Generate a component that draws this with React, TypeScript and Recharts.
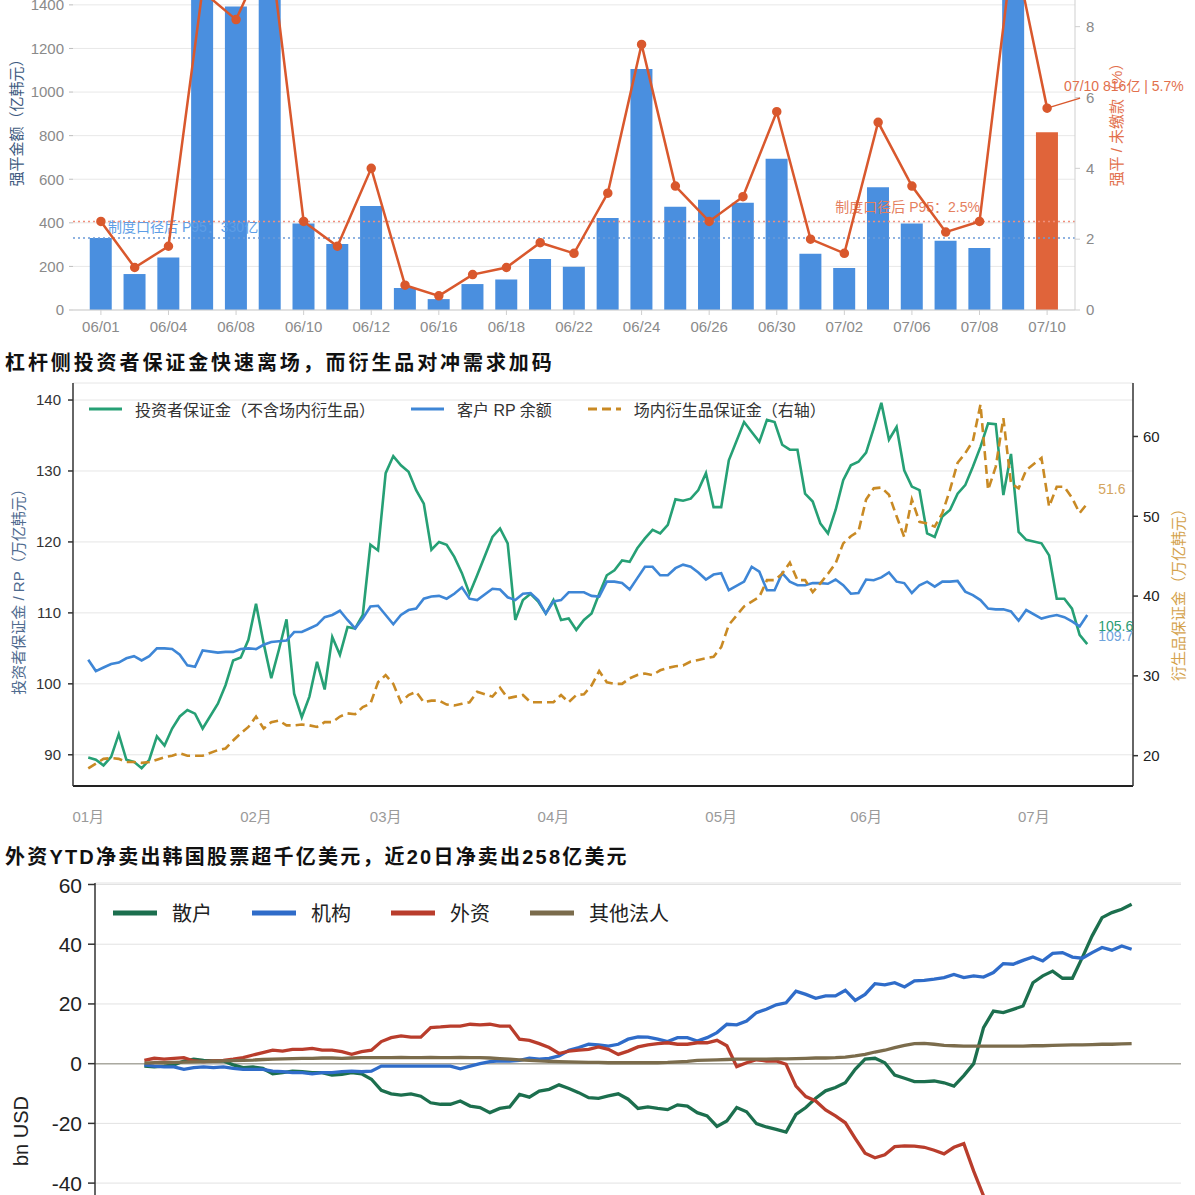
import React from 'react'
import {
  Bar,
  CartesianGrid,
  Cell,
  ComposedChart,
  Line,
  LineChart,
  ReferenceLine,
  XAxis,
  YAxis,
} from 'recharts'

const FONT = '"Liberation Sans", Arial, "Noto Sans CJK SC", sans-serif'

// ---------- 图 1：强平金额 / 未缴款比例 ----------
const TOP_DATES = [
  '06/01', '06/02', '06/04', '06/05', '06/08', '06/09', '06/10', '06/11', '06/12', '06/15',
  '06/16', '06/17', '06/18', '06/19', '06/22', '06/23', '06/24', '06/25', '06/26', '06/29',
  '06/30', '07/01', '07/02', '07/03', '07/06', '07/07', '07/08', '07/09', '07/10',
]
// 强平金额（亿韩元）
const TOP_AMOUNT = [
  330, 165, 241, 1680, 1392, 1720, 397, 303, 477, 101,
  50, 119, 140, 234, 199, 422, 1106, 474, 506, 492,
  694, 258, 193, 563, 397, 318, 285, 1760, 816,
]
// 强平 / 未缴款（%）
const TOP_RATE = [
  2.5, 1.2, 1.8, 9.0, 8.2, 10.3, 2.5, 1.8, 4.0, 0.7,
  0.4, 1.0, 1.2, 1.9, 1.6, 3.3, 7.5, 3.5, 2.5, 3.2,
  5.6, 2.0, 1.6, 5.3, 3.5, 2.2, 2.5, 10.3, 5.7,
]
const P95_AMOUNT = 330
const P95_RATE = 2.5
const TOP_AMOUNT_TICKS = [0, 200, 400, 600, 800, 1000, 1200, 1400, 1600, 1800]
const TOP_RATE_TICKS = [0, 2, 4, 6, 8, 10, 12]

// ---------- 图 2：投资者保证金 / RP / 场内衍生品保证金 ----------
const MID_DAY = [
  0, 1, 2, 3, 4, 5, 6, 7, 8, 9, 10, 11, 12, 13, 14, 15,
  17, 18, 19, 20, 21, 22, 23, 24, 25, 26, 27, 28, 29, 30, 31, 32, 33, 34, 35, 36, 37, 38, 39, 40, 41, 42, 43, 44, 45,
  46, 47, 48, 49, 50, 51,
  53, 54, 55, 56, 57, 58, 59, 60, 61, 62, 63, 64, 65, 66, 67, 68, 69, 70, 71, 72, 73, 74, 75, 76, 77, 78, 79, 80, 81, 82, 83, 84,
  86, 87, 88, 89, 90, 91, 92, 93,
  94, 95, 96, 97, 98, 99, 100, 101, 102, 103, 104, 105, 106, 107, 108, 109, 110, 111, 112, 113, 114, 115, 116, 117, 118, 119, 120, 121, 122, 123,
  125, 126, 127, 128, 129, 130, 131,
]
const MID_MARGIN = [
  89.6, 89.3, 88.5, 89.7, 92.9, 89.3, 89.0, 88.1, 89.3, 92.6, 91.3, 93.7, 95.4, 96.3, 95.8, 93.7,
  97.2, 99.8, 103.3, 103.7, 106.2, 111.3, 105.7, 100.8, 104.8, 109.1, 98.6, 95.3, 98.2, 103.1, 99.2, 106.6, 104.1, 108.0, 107.8, 109.7, 119.6, 118.8, 129.7, 132.1, 130.8, 129.9, 127.3, 125.4, 118.9,
  120.0, 119.6, 117.9, 115.6, 112.7, 115.3,
  120.7, 121.9, 119.8, 109.0, 111.8, 112.7, 111.6, 109.9, 111.8, 109.0, 109.2, 107.6, 109.0, 109.9, 112.7, 115.3, 116.0, 117.4, 117.2, 119.1, 120.5, 121.7, 121.2, 122.4, 126.0, 125.8, 126.1, 127.3, 129.7, 124.9, 124.9, 131.5,
  136.9, 135.5, 134.1, 137.2, 136.9, 133.7, 133.0, 133.0,
  126.8, 125.7, 122.6, 121.2, 124.5, 128.7, 130.8, 131.3, 132.6, 136.0, 139.6, 134.4, 136.2, 130.1, 127.8, 127.3, 121.2, 120.7, 123.6, 124.5, 126.8, 128.0, 130.6, 133.4, 136.7, 136.6, 126.6, 132.4, 121.4, 120.3,
  119.8, 118.1, 112.0, 112.0, 110.6, 106.9, 105.6,
]
const MID_RP = [
  103.4, 101.8, 102.3, 102.8, 103.0, 103.6, 103.9, 103.3, 103.9, 105.0, 105.0, 104.9, 104.1, 102.6, 102.4, 104.7,
  104.4, 104.5, 104.5, 104.9, 105.0, 104.9, 105.5, 105.9, 106.0, 106.1, 107.3, 107.3, 107.8, 108.3, 109.4, 109.7, 110.3, 109.0, 107.8, 109.2, 110.9, 111.0, 109.7, 108.4, 109.7, 110.4, 110.6, 112.0, 112.3,
  112.4, 112.0, 112.7, 113.6, 112.0, 111.8,
  113.4, 113.3, 112.2, 111.8, 112.7, 112.8, 111.8, 109.9, 111.6, 111.8, 112.9, 112.9, 112.9, 112.4, 112.3, 114.4, 114.4, 114.2, 113.3, 114.9, 116.5, 116.5, 115.3, 115.3, 116.3, 116.8, 116.5, 115.7, 114.7, 115.4, 115.6, 113.2,
  114.4, 116.5, 115.8, 113.2, 113.2, 115.6, 114.4, 113.9,
  113.9, 114.2, 114.2, 114.1, 114.7, 113.9, 112.7, 112.8, 114.7, 114.6, 115.0, 115.7, 114.4, 114.2, 112.8, 113.9, 114.4, 113.7, 114.4, 114.4, 114.5, 113.0, 112.5, 111.8, 110.6, 110.5, 110.5, 110.2, 108.9, 110.4,
  109.2, 109.5, 109.7, 109.4, 108.8, 108.1, 109.7,
]
const MID_DERIV = [
  18.4, 19.0, 19.6, 19.7, 19.6, 19.2, 19.2, 19.1, 19.2, 19.5, 19.8, 20.0, 20.3, 20.0, 20.0, 20.0,
  20.7, 20.9, 21.9, 22.8, 23.6, 24.9, 23.4, 24.2, 24.4, 23.8, 23.8, 23.9, 23.8, 23.6, 24.2, 24.2, 24.9, 25.3, 25.2, 26.1, 26.5, 29.2, 30.1, 29.0, 26.7, 27.6, 28.0, 26.7, 26.9,
  26.9, 26.4, 26.3, 26.5, 26.7, 28.0,
  27.4, 28.5, 27.2, 27.4, 27.6, 26.7, 26.7, 26.7, 26.7, 27.6, 26.7, 27.6, 27.7, 28.8, 30.6, 29.2, 29.0, 29.0, 29.7, 30.1, 30.3, 30.1, 30.7, 31.0, 31.2, 31.3, 31.8, 32.0, 32.2, 32.4, 33.6, 36.4,
  38.7, 39.3, 39.9, 42.0, 42.0, 42.8, 44.2, 42.0,
  42.0, 40.5, 41.6, 42.8, 44.1, 46.6, 47.5, 48.1, 52.1, 53.5, 53.6, 52.7, 50.0, 47.4, 52.1, 49.3, 49.1, 48.7, 50.4, 53.3, 56.7, 57.9, 59.4, 64.0, 53.3, 56.2, 62.3, 54.1, 53.5, 55.8,
  57.3, 51.2, 53.7, 53.7, 52.3, 50.4, 51.6,
]
const MONTH_DAYS = [0, 22, 39, 61, 83, 102, 124]
const MONTH_LABELS = ['01月', '02月', '03月', '04月', '05月', '06月', '07月']

// ---------- 图 3：各类投资者累计净买入（bn USD） ----------
const RETAIL = [
  -0.8, -1.1, -0.8, -0.4, 0.9, 1.5, 1.1, 0.9, 0.9, -0.4, -1.3, -1.1, -1.6, -3.4, -3.0, -2.5, -2.7, -3.0, -3.0, -3.8,
  -3.6, -3.0, -3.4, -5.2, -8.9, -10.1, -10.5, -10.1, -10.9, -13.1, -13.6, -13.6, -12.5, -14.2, -14.7, -16.4, -15.0, -14.5, -10.3, -11.2,
  -9.2, -8.6, -7.1, -8.3, -9.7, -11.4, -11.6, -10.8, -10.1, -11.9, -15.0,
  -14.5, -15.0, -15.4, -13.8, -14.2, -16.4, -17.5, -21.0, -19.2, -14.7, -16.1, -20.1, -21.2, -22.0, -22.9, -17.0, -14.7, -11.6, -9.1, -8.0,
  -6.4, -1.9, 1.5, 1.8, 0.3, -3.8, -4.9, -6.0, -6.0, -5.8, -6.4, -7.5, -4.0, 0.0, 12.1, 17.6, 17.1, 18.2, 19.3, 27.1,
  29.4, 31.0, 28.6, 28.6, 35.5, 42.8, 48.9, 50.6, 51.7, 53.4,
]
const INSTITUTION = [
  -0.4, -0.8, -1.1, -1.1, -1.9, -1.3, -1.1, -1.3, -1.1, -1.6, -1.9, -1.9, -1.9, -2.5, -2.7, -3.0, -3.0, -3.4, -3.0, -3.0,
  -2.7, -2.5, -2.7, -2.5, -0.8, -0.8, -0.8, -0.8, -0.8, -0.8, -0.8, -0.8, -1.7, -0.8, 0.0, 0.7, 0.9, 0.9, 1.1, 1.8,
  1.5, 1.8, 2.6, 4.5, 5.4, 6.5, 6.3, 5.9, 6.5, 8.2, 9.0,
  8.9, 8.2, 7.4, 8.7, 8.7, 7.6, 8.7, 10.4, 13.2, 13.0, 14.3, 17.1, 18.2, 19.7, 20.4, 24.3, 23.2, 21.9, 22.7, 22.7,
  24.6, 21.2, 23.2, 26.8, 26.4, 27.1, 25.7, 27.7, 27.9, 28.3, 28.8, 29.9, 28.8, 29.4, 29.0, 30.5, 33.5, 33.3, 34.6, 35.7,
  34.4, 36.9, 37.2, 35.7, 35.3, 37.2, 38.9, 38.0, 39.4, 38.3,
]
const FOREIGN = [
  1.1, 1.8, 1.5, 1.8, 2.0, 0.9, 0.7, 0.9, 1.1, 1.5, 2.0, 2.9, 3.7, 4.5, 4.2, 4.8, 4.8, 5.1, 4.5, 4.5,
  4.0, 3.1, 4.0, 4.5, 7.4, 8.7, 9.3, 8.9, 8.9, 12.1, 12.3, 12.6, 12.6, 13.2, 13.0, 13.2, 12.6, 12.6, 8.2, 7.8,
  6.7, 5.4, 3.4, 4.2, 4.5, 4.8, 5.6, 4.8, 3.1, 4.2, 5.6,
  6.3, 6.7, 7.0, 6.5, 6.5, 7.0, 7.0, 7.8, 6.0, -1.0, 0.3, 1.3, 0.9, 0.9, -0.2, -7.5, -11.0, -12.5, -15.5, -17.5,
  -19.8, -25.0, -30.0, -31.5, -30.5, -27.8, -27.5, -27.6, -28.0, -29.0, -30.2, -28.0, -26.8, -36.0, -44.3, -52, -58, -63, -67, -72,
  -76, -80, -83, -86, -89, -92, -95, -98, -101, -103,
]
const OTHER_CORP = [
  0.2, 0.3, 0.3, 0.4, 0.5, 0.6, 0.7, 0.8, 0.9, 1.0, 1.1, 1.2, 1.4, 1.5, 1.6, 1.7, 1.8, 1.8, 1.9, 1.9,
  1.8, 1.9, 2.0, 2.0, 2.0, 2.0, 2.1, 2.0, 2.0, 2.1, 2.0, 2.0, 2.1, 2.0, 2.0, 1.9, 1.7, 1.5, 1.3, 1.1,
  0.9, 0.8, 0.7, 0.6, 0.5, 0.4, 0.4, 0.3, 0.3, 0.3, 0.3,
  0.3, 0.3, 0.4, 0.6, 0.8, 1.1, 1.2, 1.3, 1.4, 1.5, 1.5, 1.5, 1.5, 1.6, 1.6, 1.7, 1.8, 1.9, 1.9, 2.0,
  2.2, 2.6, 3.1, 3.9, 4.5, 5.4, 6.1, 6.7, 6.8, 6.5, 6.1, 6.0, 5.9, 5.9, 5.9, 5.9, 5.9, 5.9, 5.9, 6.0,
  6.0, 6.1, 6.2, 6.3, 6.3, 6.4, 6.5, 6.5, 6.6, 6.7,
]
const BOTTOM_TICKS = [-120, -100, -80, -60, -40, -20, 0, 20, 40, 60]

// 图表用的数据表
const topData = TOP_DATES.map((date, i) => ({ date, amount: TOP_AMOUNT[i], rate: TOP_RATE[i] }))
const TOP_LAST = TOP_DATES.length - 1

const midData = MID_DAY.map((day, i) => ({
  day,
  margin: MID_MARGIN[i],
  rp: MID_RP[i],
  deriv: MID_DERIV[i],
}))
const MID_LAST = MID_DAY.length - 1

const bottomData = RETAIL.map((v, k) => ({
  k,
  retail: v,
  inst: INSTITUTION[k],
  foreign: FOREIGN[k],
  other: OTHER_CORP[k],
}))

const MID_SERIES = [
  { key: 'margin', label: '投资者保证金（不含场内衍生品）', color: '#26a075', dashed: false },
  { key: 'rp', label: '客户 RP 余额', color: '#3e86d6', dashed: false },
  { key: 'deriv', label: '场内衍生品保证金（右轴）', color: '#c98a24', dashed: true },
]

const BOTTOM_SERIES = [
  { key: 'retail', label: '散户', color: '#1c6f4e' },
  { key: 'inst', label: '机构', color: '#2f6cc9' },
  { key: 'foreign', label: '外资', color: '#b93d2c' },
  { key: 'other', label: '其他法人', color: '#7b6c4c' },
]

// 旋转的坐标轴标题（HTML 覆盖层）
function RotatedTitle({ text, cx, cy, color, size }: { text: string; cx: number; cy: number; color: string; size: number }) {
  return (
    <div
      style={{
        position: 'absolute',
        left: cx,
        top: cy,
        transform: 'translate(-50%, -50%) rotate(-90deg)',
        whiteSpace: 'nowrap',
        color,
        fontSize: size,
        fontFamily: FONT,
        lineHeight: 1,
      }}
    >
      {text}
    </div>
  )
}

// 07/10 的标注：引线 + 文本
function TopAnnotation(props: any) {
  const { x, y, index } = props
  if (index !== TOP_LAST || x == null || y == null) return null
  const text = `${TOP_DATES[TOP_LAST]} ${TOP_AMOUNT[TOP_LAST]}亿 | ${TOP_RATE[TOP_LAST]}%`
  return (
    <g>
      <line x1={x} y1={y} x2={x + 33} y2={y - 10} stroke="#d9582d" strokeWidth={1.5} />
      <text x={x + 17} y={y - 17} fill="#e2704c" fontSize={14} fontFamily={FONT}>
        {text}
      </text>
    </g>
  )
}

function TopChart() {
  return (
    <ComposedChart
      width={1195}
      height={470}
      data={topData}
      margin={{ top: 10, right: 60, bottom: 0, left: 0 }}
      barCategoryGap="17%"
    >
      <CartesianGrid yAxisId="amt" vertical={false} stroke="#e8e8e8" />
      <XAxis
        dataKey="date"
        interval={1}
        height={35}
        padding={{ left: 11, right: 11 }}
        stroke="#cfcfcf"
        tickSize={5}
        tickMargin={6}
        tick={{ fontSize: 15, fill: '#8a8a8a', fontFamily: FONT }}
      />
      <YAxis
        yAxisId="amt"
        width={73}
        domain={[0, 1950]}
        ticks={TOP_AMOUNT_TICKS}
        axisLine={false}
        tickLine={{ stroke: '#bdbdbd' }}
        tickSize={4}
        tickMargin={5}
        tick={{ fontSize: 15, fill: '#8a8a8a', fontFamily: FONT }}
      />
      <YAxis
        yAxisId="rate"
        orientation="right"
        width={60}
        domain={[0, 12]}
        ticks={TOP_RATE_TICKS}
        stroke="#cfcfcf"
        tickSize={5}
        tickMargin={6}
        tick={{ fontSize: 15, fill: '#8a8a8a', fontFamily: FONT }}
      />
      <ReferenceLine
        yAxisId="amt"
        y={P95_AMOUNT}
        stroke="#6b9ad8"
        strokeDasharray="2 3"
        strokeWidth={1.5}
        label={(p: any) => (
          <text x={p.viewBox.x + 35} y={p.viewBox.y - 6} fill="#5d9de6" fontSize={14} fontFamily={FONT}>
            {`制度口径后 P95：${P95_AMOUNT}亿`}
          </text>
        )}
      />
      <ReferenceLine
        yAxisId="rate"
        y={P95_RATE}
        stroke="#f0907c"
        strokeDasharray="2 3"
        strokeWidth={1.5}
        label={(p: any) => (
          <text
            x={p.viewBox.x + p.viewBox.width - 95}
            y={p.viewBox.y - 9}
            textAnchor="end"
            fill="#e5805f"
            fontSize={14}
            fontFamily={FONT}
          >
            {`制度口径后 P95：${P95_RATE}%`}
          </text>
        )}
      />
      <Bar yAxisId="amt" dataKey="amount" isAnimationActive={false}>
        {topData.map((_, i) => (
          <Cell key={i} fill={i === TOP_LAST ? '#e0643a' : '#4a8fdf'} />
        ))}
      </Bar>
      <Line
        yAxisId="rate"
        dataKey="rate"
        stroke="#d9582d"
        strokeWidth={2.5}
        dot={{ r: 3.5, fill: '#d9582d', stroke: '#d9582d' }}
        activeDot={false}
        isAnimationActive={false}
        label={(p: any) => <TopAnnotation {...p} />}
      />
    </ComposedChart>
  )
}

// 线尾数值标签
const endLabel = (color: string, dy: number) => (props: any) => {
  const { x, y, index, value } = props
  if (index !== MID_LAST || x == null || y == null) return null
  return (
    <text x={x + 11} y={y + dy} fill={color} fontSize={14} fontFamily={FONT}>
      {value}
    </text>
  )
}

function MiddleChart() {
  return (
    <LineChart width={1195} height={453} data={midData} margin={{ top: 10, right: 0, bottom: 0, left: 0 }}>
      <CartesianGrid yAxisId="l" vertical={false} stroke="#e6e6e6" />
      <XAxis
        dataKey="day"
        type="number"
        domain={[-2, 137]}
        ticks={MONTH_DAYS}
        tickFormatter={(v: number) => MONTH_LABELS[MONTH_DAYS.indexOf(v)] ?? ''}
        height={40}
        stroke="#222"
        strokeWidth={2}
        tickLine={false}
        tickSize={6}
        tickMargin={19}
        tick={{ fontSize: 15, fill: '#9a9a9a', fontFamily: FONT }}
      />
      <YAxis
        yAxisId="l"
        width={73}
        domain={[85.6, 142.4]}
        ticks={[90, 100, 110, 120, 130, 140]}
        stroke="#333"
        strokeWidth={1.5}
        tickSize={5}
        tickMargin={7}
        tick={{ fontSize: 15, fill: '#333', fontFamily: FONT }}
      />
      <YAxis
        yAxisId="r"
        orientation="right"
        width={62}
        domain={[16.2, 66.7]}
        ticks={[20, 30, 40, 50, 60]}
        stroke="#333"
        strokeWidth={1.5}
        tickSize={5}
        tickMargin={5}
        tick={{ fontSize: 15, fill: '#222', fontFamily: FONT }}
      />
      <Line
        yAxisId="l"
        dataKey="margin"
        stroke={MID_SERIES[0].color}
        strokeWidth={2.6}
        dot={false}
        isAnimationActive={false}
        label={endLabel('#2a9d74', -13)}
      />
      <Line
        yAxisId="l"
        dataKey="rp"
        stroke={MID_SERIES[1].color}
        strokeWidth={2.6}
        dot={false}
        isAnimationActive={false}
        label={endLabel('#6fa3dc', 26)}
      />
      <Line
        yAxisId="r"
        dataKey="deriv"
        stroke={MID_SERIES[2].color}
        strokeWidth={2.6}
        strokeDasharray="9 5"
        dot={false}
        isAnimationActive={false}
        label={endLabel('#d4a55e', -10)}
      />
    </LineChart>
  )
}

function BottomChart() {
  return (
    <LineChart width={1195} height={549} data={bottomData} margin={{ top: 10, right: 14, bottom: 0, left: 0 }}>
      <CartesianGrid vertical={false} stroke="#e2e2e2" />
      <XAxis dataKey="k" type="number" domain={[-5, 105]} hide />
      <XAxis
        xAxisId="frame"
        orientation="top"
        type="number"
        domain={[0, 1]}
        height={0}
        tick={false}
        tickLine={false}
        stroke="#333"
        strokeWidth={1.5}
      />
      <YAxis
        width={95}
        domain={[-120, 60.5]}
        ticks={BOTTOM_TICKS}
        stroke="#333"
        strokeWidth={1.5}
        tickSize={7}
        tickMargin={6}
        tick={{ fontSize: 21, fill: '#222', fontFamily: FONT }}
      />
      <YAxis
        yAxisId="frame"
        orientation="right"
        width={0}
        domain={[0, 1]}
        tick={false}
        tickLine={false}
        stroke="#333"
        strokeWidth={1.5}
      />
      <ReferenceLine y={0} stroke="#aaa9a0" strokeWidth={1.5} />
      {BOTTOM_SERIES.map((s) => (
        <Line
          key={s.key}
          dataKey={s.key}
          stroke={s.color}
          strokeWidth={3.3}
          dot={false}
          isAnimationActive={false}
        />
      ))}
    </LineChart>
  )
}

function LegendRow({
  items,
  fontSize,
  swatch,
  gap,
  itemGap,
  thickness,
  color,
}: {
  items: { label: string; color: string; dashed?: boolean }[]
  fontSize: number
  swatch: number
  gap: number
  itemGap: number
  thickness: number
  color: string
}) {
  return (
    <div style={{ display: 'flex', alignItems: 'center', fontFamily: FONT, fontSize, color, whiteSpace: 'nowrap' }}>
      {items.map((it) => (
        <div key={it.label} style={{ display: 'flex', alignItems: 'center', marginRight: itemGap }}>
          <svg width={swatch} height={10} style={{ marginRight: gap }}>
            <line
              x1={0}
              y1={5}
              x2={swatch}
              y2={5}
              stroke={it.color}
              strokeWidth={thickness}
              strokeDasharray={it.dashed ? '9 5' : undefined}
            />
          </svg>
          <span>{it.label}</span>
        </div>
      ))}
    </div>
  )
}

const titleStyle: React.CSSProperties = {
  position: 'absolute',
  left: 5,
  fontFamily: FONT,
  fontWeight: 'bold',
  fontSize: 20,
  lineHeight: '24px',
  color: '#111',
  whiteSpace: 'nowrap',
}

export default function App() {
  return (
    <div
      style={{
        position: 'absolute',
        left: 0,
        top: 0,
        width: 1195,
        height: 1195,
        overflow: 'hidden',
        background: '#fff',
      }}
    >
      {/* 图 1 */}
      <div style={{ position: 'absolute', left: 0, top: -125.5 }}>
        <TopChart />
      </div>
      <RotatedTitle text="强平金额（亿韩元）" cx={16} cy={119} color="#3d5a80" size={15} />
      <RotatedTitle text="强平 / 未缴款（%）" cx={1116} cy={121} color="#e2704c" size={15} />

      {/* 图 2 */}
      <div style={{ ...titleStyle, top: 351, letterSpacing: 2.9 }}>杠杆侧投资者保证金快速离场，而衍生品对冲需求加码</div>
      <div style={{ position: 'absolute', left: 0, top: 373 }}>
        <MiddleChart />
      </div>
      <div style={{ position: 'absolute', left: 89, top: 397 }}>
        <LegendRow items={MID_SERIES} fontSize={16} swatch={33} gap={13} itemGap={36} thickness={3} color="#333" />
      </div>
      <RotatedTitle text="投资者保证金 / RP（万亿韩元）" cx={18} cy={588} color="#4f6b8f" size={15} />
      <RotatedTitle text="衍生品保证金（万亿韩元）" cx={1178} cy={591} color="#d4a24c" size={15} />

      {/* 图 3 */}
      <div style={{ ...titleStyle, top: 845, letterSpacing: 2.2 }}>外资YTD净卖出韩国股票超千亿美元，近20日净卖出258亿美元</div>
      <div style={{ position: 'absolute', left: 0, top: 873 }}>
        <BottomChart />
      </div>
      <div style={{ position: 'absolute', left: 113, top: 898 }}>
        <LegendRow items={BOTTOM_SERIES} fontSize={20} swatch={44} gap={15} itemGap={40} thickness={5} color="#222" />
      </div>
      <RotatedTitle text="bn USD" cx={21} cy={1131} color="#222" size={20} />
    </div>
  )
}
